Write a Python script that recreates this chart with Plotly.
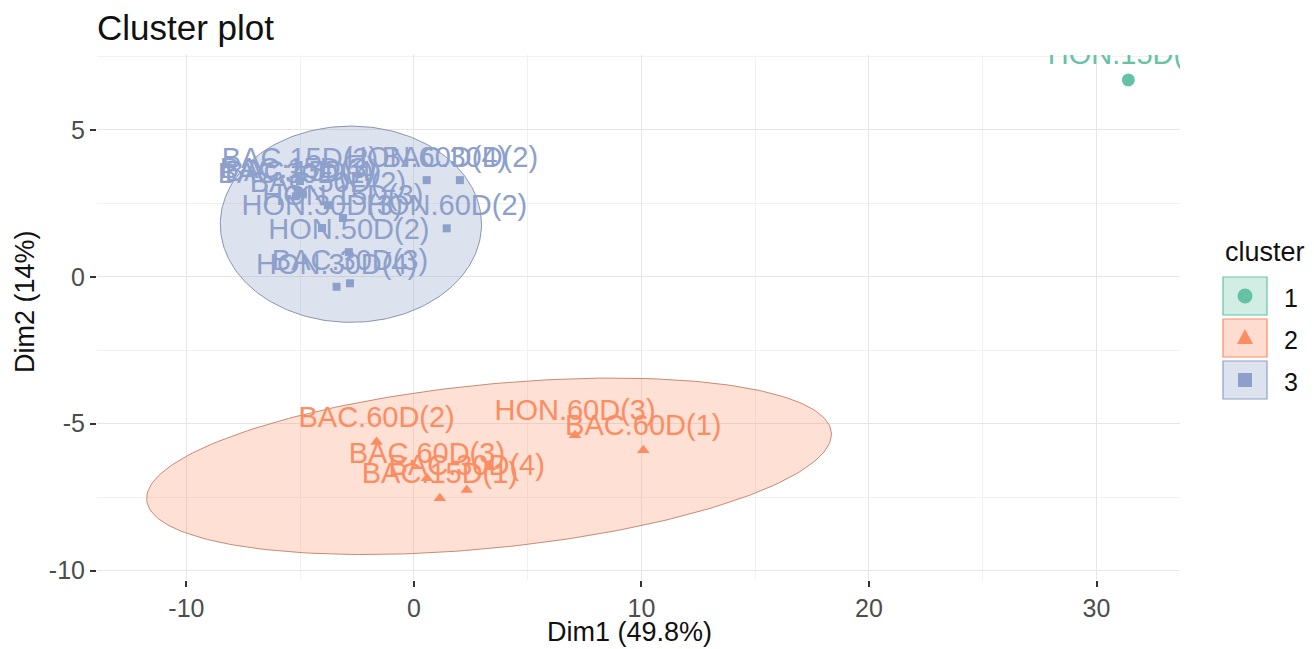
import numpy as np
import plotly.graph_objects as go

# ---- cluster members: principal-component coordinates ----
c1_labels = ["HON.15D(1)"]
c1_dim1 = [31.40]
c1_dim2 = [6.70]

c2_labels = ["BAC.60D(2)", "HON.60D(3)", "BAC.60D(1)", "BAC.60D(3)",
             "BAC.30D(4)", "BAC.15D(1)", ""]
c2_dim1 = [-1.64, 7.08, 10.08, 0.57, 2.32, 1.14, 3.34]
c2_dim2 = [-5.62, -5.39, -5.90, -6.86, -7.26, -7.54, -6.48]

c3_labels = ["BAC.15D(2)", "BAC.15D(3)", "BAC.15D(4)", "BAC.30D(1)",
             "BAC.50D(2)", "HON.60D(4)", "BAC.30D(2)", "HON.60D(2)",
             "HON.15D(3)", "HON.30D(3)", "HON.50D(2)", "HON.30D(4)",
             "BAC.30D(3)"]
c3_dim1 = [-5.01, -5.10, -4.88, -5.19, -3.78, 0.56, 2.02, 1.44,
           -3.12, -4.04, -2.86, -3.40, -2.81]
c3_dim2 = [3.26, 2.92, 2.81, 2.74, 2.44, 3.29, 3.29, 1.65,
           2.00, 1.66, 0.84, -0.34, -0.22]

# concentration ellipses: centre, semi-axes, rotation (degrees)
ell2_center = [3.30, -6.45]
ell2_axes = [15.09, 2.79]
ell2_angle = 4.3
ell3_center = [-2.77, 1.79]
ell3_axes = [5.74, 3.34]
ell3_angle = 0.0

x_ticks = [-10, 0, 10, 20, 30]
y_ticks = [-10, -5, 0, 5]
cluster_names = ["1", "2", "3"]

GREEN, ORANGE, BLUE = "#66C2A5", "#FC8D62", "#8DA0CB"
FONT = "Arial, Liberation Sans, sans-serif"

W, H = 1314, 649
ML, MR, MT, MB = 97, 134, 55, 69
PW, PH = W - ML - MR, H - MT - MB


def px(x):
    return (x - ML) / PW


def py(y):
    return 1 - (y - MT) / PH


def ellipse(center, axes, angle, n=240):
    t = np.linspace(0, 2 * np.pi, n)
    th = np.deg2rad(angle)
    a, b = axes
    x = center[0] + a * np.cos(th) * np.cos(t) - b * np.sin(th) * np.sin(t)
    y = center[1] + a * np.sin(th) * np.cos(t) + b * np.cos(th) * np.sin(t)
    return x, y


fig = go.Figure()

for center, axes, angle, fill, edge in [
    (ell2_center, ell2_axes, ell2_angle, "rgba(252,141,98,0.27)", "#C98A74"),
    (ell3_center, ell3_axes, ell3_angle, "rgba(141,160,203,0.30)", "#8A94B2"),
]:
    ex, ey = ellipse(center, axes, angle)
    fig.add_trace(go.Scatter(x=ex, y=ey, mode="lines", fill="toself",
                             fillcolor=fill, line=dict(color=edge, width=1),
                             hoverinfo="skip", showlegend=False))

for xs, ys, labels, color, symbol, size in [
    (c2_dim1, c2_dim2, c2_labels, ORANGE, "triangle-up", 11),
    (c3_dim1, c3_dim2, c3_labels, BLUE, "square", 8),
    (c1_dim1, c1_dim2, c1_labels, GREEN, "circle", 13),
]:
    fig.add_trace(go.Scatter(
        x=xs, y=ys, mode="markers+text", text=labels,
        textposition="top center",
        textfont=dict(family=FONT, size=29, color=color),
        marker=dict(symbol=symbol, size=size, color=color, line=dict(width=0)),
        cliponaxis=True, showlegend=False))

axis_common = dict(
    showline=False, zeroline=False, showgrid=True,
    gridcolor="#E6E6E6", gridwidth=1,
    ticks="outside", ticklen=6, tickwidth=1.5, tickcolor="#333333",
    tickfont=dict(family=FONT, size=25, color="#4D4D4D"),
)

fig.update_layout(
    width=W, height=H,
    margin=dict(l=ML, r=MR, t=MT, b=MB),
    paper_bgcolor="white", plot_bgcolor="white",
    title=dict(text="Cluster plot", x=ML / W, xanchor="left",
               xref="container", yref="container", y=1 - 28 / H,
               yanchor="middle",
               font=dict(family=FONT, size=35, color="#111111")),
    xaxis=dict(range=[-13.93, 33.67], tickvals=x_ticks,
               ticktext=[str(v) for v in x_ticks],
               minor=dict(dtick=5, tick0=0, showgrid=True,
                          gridcolor="#F1F1F1", gridwidth=0.8),
               **axis_common),
    yaxis=dict(range=[-10.32, 7.55], tickvals=y_ticks,
               ticktext=[str(v) for v in y_ticks],
               minor=dict(dtick=2.5, tick0=0, showgrid=True,
                          gridcolor="#F1F1F1", gridwidth=0.8),
               **axis_common),
    showlegend=False,
)

title_font = dict(family=FONT, size=27, color="#111111")
annotations = [
    dict(text="Dim1 (49.8%)", x=px(629), y=py(632), xref="paper",
         yref="paper", xanchor="center", yanchor="middle", showarrow=False,
         font=title_font),
    dict(text="Dim2 (14%)", x=px(25), y=py(302), xref="paper",
         yref="paper", xanchor="center", yanchor="middle", showarrow=False,
         textangle=-90, font=title_font),
]

# legend drawn beside the panel
legend_colors = [GREEN, ORANGE, BLUE]
legend_fills = ["rgba(102,194,165,0.30)", "rgba(252,141,98,0.30)",
                "rgba(141,160,203,0.30)"]
box_top = [277, 319, 361]
box_h = 38
bx0, bx1 = 1223, 1267
shapes = []
annotations.append(dict(text="cluster", x=px(bx0), y=py(252), xref="paper",
                        yref="paper", xanchor="left", yanchor="middle",
                        showarrow=False,
                        font=dict(family=FONT, size=27, color="#111111")))
for i, (name, col, fill, top) in enumerate(zip(cluster_names, legend_colors,
                                                legend_fills, box_top)):
    shapes.append(dict(type="rect", xref="paper", yref="paper",
                       x0=px(bx0), x1=px(bx1), y0=py(top), y1=py(top + box_h),
                       fillcolor=fill, line=dict(color=col, width=1.2)))
    cx, cy = (bx0 + bx1) / 2, top + box_h / 2
    if i == 0:
        shapes.append(dict(type="circle", xref="paper", yref="paper",
                           x0=px(cx - 7.5), x1=px(cx + 7.5),
                           y0=py(cy - 7.5), y1=py(cy + 7.5),
                           fillcolor=col, line=dict(width=0)))
    elif i == 1:
        path = "M {} {} L {} {} L {} {} Z".format(
            px(cx), py(cy - 9), px(cx - 8), py(cy + 6), px(cx + 8), py(cy + 6))
        shapes.append(dict(type="path", xref="paper", yref="paper", path=path,
                           fillcolor=col, line=dict(width=0)))
    else:
        shapes.append(dict(type="rect", xref="paper", yref="paper",
                           x0=px(cx - 7), x1=px(cx + 7),
                           y0=py(cy - 7), y1=py(cy + 7),
                           fillcolor=col, line=dict(width=0)))
    annotations.append(dict(text=name, x=px(1282), y=py(cy + 2),
                            xref="paper", yref="paper", xanchor="left",
                            yanchor="middle", showarrow=False,
                            font=dict(family=FONT, size=25, color="#111111")))

fig.update_layout(shapes=shapes, annotations=annotations)

fig.write_html("out.html")
